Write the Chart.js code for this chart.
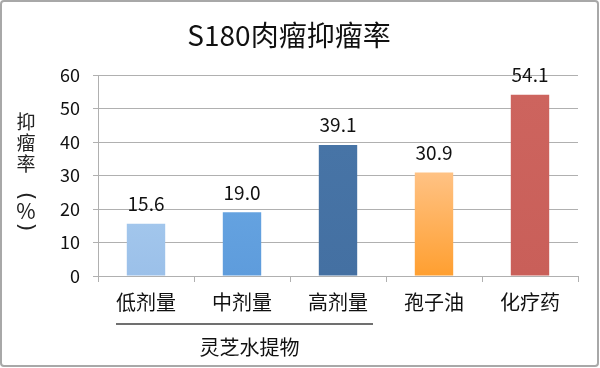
<!DOCTYPE html>
<html><head><meta charset="utf-8">
<script src="https://cdn.jsdelivr.net/npm/chart.js@4"></script>
<style>html,body{margin:0;padding:0;background:#fff}#wrap{width:600px;height:368px;position:relative}</style>
</head><body><div id="wrap"><canvas id="c" width="600" height="368"></canvas></div>
<script>
const categories = ['低剂量', '中剂量', '高剂量', '孢子油', '化疗药'];
const values = [15.6, 19.0, 39.1, 30.9, 54.1];
const yTicks = [0, 10, 20, 30, 40, 50, 60];
const titleText = 'S180肉瘤抑瘤率';
const yTitleChars = ['抑', '瘤', '率', '（', '%', '）'];
const groupLabel = '灵芝水提物';

const FONT = '"Noto Sans CJK SC", "Noto Sans", sans-serif';
const barColors = [
  ['#a2c6ec', '#9bc0e9'],
  ['#64a2e0', '#5e9cdc'],
  ['#4774a6', '#4470a2'],
  ['#ffc284', '#ff9f30'],
  ['#cd645e', '#c95f59']
];

const extras = {
  id: 'extras',
  beforeDraw(chart) {
    const ctx = chart.ctx;
    ctx.save();
    ctx.fillStyle = '#fff';
    ctx.fillRect(0, 0, chart.width, chart.height);
    ctx.restore();
  },
  afterDraw(chart) {
    const ctx = chart.ctx;
    const x = chart.scales.x;
    const meta = chart.getDatasetMeta(0);
    ctx.save();
    // value labels
    ctx.font = '19px ' + FONT;
    ctx.fillStyle = '#111';
    ctx.textAlign = 'center';
    ctx.textBaseline = 'middle';
    meta.data.forEach((bar, i) => {
      ctx.fillText(values[i].toFixed(1), bar.x, bar.y - 20);
    });
    // y title, vertical (brackets rotated)
    ctx.fillStyle = '#222';
    const centers = [122, 143, 164, 196, 211, 227];
    yTitleChars.forEach((ch, i) => {
      ctx.save();
      ctx.translate(26, centers[i]);
      if (ch === '（' || ch === '）') {
        ctx.rotate(Math.PI / 2);
        ctx.font = '22px "DejaVu Sans", sans-serif';
        ctx.fillText(ch === '（' ? '(' : ')', 0, 0);
      } else if (ch === '%') {
        ctx.font = '21px ' + FONT;
        ctx.fillText(ch, 0, 0);
      } else {
        ctx.font = '19px ' + FONT;
        ctx.fillText(ch, 0, 0);
      }
      ctx.restore();
    });
    // group underline + label
    const x0 = x.getPixelForValue(0) - 30;
    const x2 = x.getPixelForValue(2) + 35;
    ctx.strokeStyle = '#404040';
    ctx.lineWidth = 1.6;
    ctx.beginPath();
    ctx.moveTo(x0, 324);
    ctx.lineTo(x2, 324);
    ctx.stroke();
    ctx.font = '20px ' + FONT;
    ctx.fillStyle = '#111';
    ctx.fillText(groupLabel, (x0 + x2) / 2 + 5, 347);
    // outer border
    ctx.strokeStyle = '#a8a8a8';
    ctx.lineWidth = 2;
    ctx.beginPath();
    if (ctx.roundRect) ctx.roundRect(1, 1, chart.width - 3, chart.height - 3, 3);
    else ctx.rect(1, 1, chart.width - 3, chart.height - 3);
    ctx.stroke();
    ctx.restore();
  }
};

new Chart(document.getElementById('c'), {
  type: 'bar',
  data: {
    labels: categories,
    datasets: [{
      data: values,
      backgroundColor: (c) => {
        const ca = c.chart.chartArea;
        const i = c.dataIndex;
        if (!ca || i === undefined) return barColors[0][0];
        const g = c.chart.ctx.createLinearGradient(0, c.chart.scales.y.getPixelForValue(values[i]), 0, ca.bottom);
        g.addColorStop(0, barColors[i][0]);
        g.addColorStop(1, barColors[i][1]);
        return g;
      },
      borderWidth: 0,
      barPercentage: 0.8,
      categoryPercentage: 0.5
    }]
  },
  options: {
    responsive: false,
    animation: false,
    devicePixelRatio: 1,
    layout: { padding: { left: 0, right: 22, top: 0, bottom: 0 } },
    plugins: {
      legend: { display: false },
      tooltip: { enabled: false },
      title: {
        display: true,
        text: titleText,
        font: { family: FONT, size: 28, weight: 'normal', lineHeight: 1.2 },
        color: '#111',
        padding: { top: 19, bottom: 22.4 }
      }
    },
    scales: {
      x: {
        grid: { display: true, drawOnChartArea: false, drawTicks: true, tickLength: 6, color: '#b0b0b0', offset: true },
        border: { display: true, color: '#b0b0b0', width: 1 },
        ticks: { font: { family: FONT, size: 20 }, color: '#111', padding: 8, maxRotation: 0 },
        afterFit(s) { s.height = 92; s.paddingLeft = 0; s.paddingRight = 0; }
      },
      y: {
        min: 0, max: 60,
        afterBuildTicks(s) { s.ticks = yTicks.map(v => ({ value: v })); },
        grid: { color: '#b0b0b0', drawTicks: true, tickLength: 5, lineWidth: 1 },
        border: { display: true, color: '#b0b0b0' },
        ticks: { font: { family: FONT, size: 18 }, color: '#111', padding: 13 },
        afterFit(s) { s.width = 98; s.paddingTop = 0; s.paddingBottom = 0; }
      }
    }
  },
  plugins: [extras]
});
</script></body></html>
